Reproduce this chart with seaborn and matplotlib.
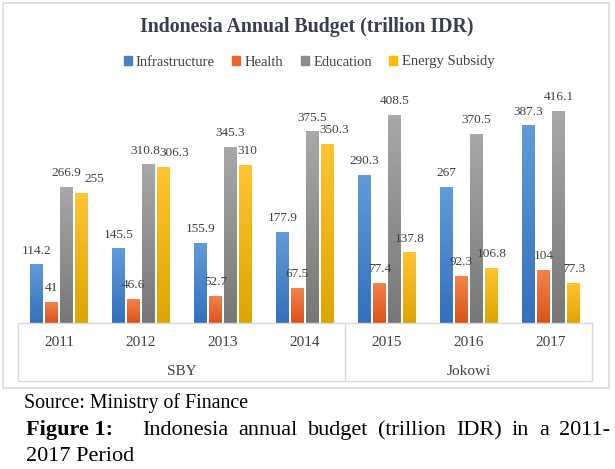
import numpy as np
import pandas as pd
import matplotlib.pyplot as plt
import seaborn as sns
from matplotlib.colors import LinearSegmentedColormap
from matplotlib.lines import Line2D
from matplotlib.patches import Rectangle

# =========================
# DATA
# =========================
years = ['2011', '2012', '2013', '2014', '2015', '2016', '2017']
periods = ['SBY', 'Jokowi']
period_spans = [(0, 3), (4, 6)]  # index of first / last year in each period
categories = ['Infrastructure', 'Health', 'Education', 'Energy Subsidy']

infrastructure = [114.2, 145.5, 155.9, 177.9, 290.3, 267, 387.3]
health = [41, 46.6, 52.7, 67.5, 77.4, 92.3, 104]
education = [266.9, 310.8, 345.3, 375.5, 408.5, 370.5, 416.1]
energy_subsidy = [255, 306.3, 310, 350.3, 137.8, 106.8, 77.3]

series = [infrastructure, health, education, energy_subsidy]
df = pd.DataFrame({
    'Year': np.tile(years, len(categories)),
    'Category': np.repeat(categories, len(years)),
    'Budget': np.concatenate(series),
})

# colour per series: legend colour, top and bottom of the gradient
legend_colors = ['#4a7fc8', '#ec6428', '#8c8c8c', '#ffbb00']
top_colors = ['#609bd8', '#f2834a', '#a8a8a8', '#ffc432']
bottom_colors = ['#3470bd', '#dd5318', '#777777', '#dca600']

# horizontal nudges (px) of labels that would collide, like Excel does
label_dx = [
    [0] * 7,
    [0] * 7,
    [0, -3, 0, 0, 0, 0, 0],
    [12, 10, 2, 6, 0, 0, 0],
]

# =========================
# FIGURE
# =========================
sns.set_theme(style='white')
plt.rcParams['font.family'] = ['Liberation Serif', 'DejaVu Serif']

W, H = 615, 469
fig = plt.figure(figsize=(W / 100, H / 100), dpi=100)


def fx(px):
    return px / W


def fy(py):
    return 1 - py / H


ax = fig.add_axes([fx(18), fy(323), fx(592) - fx(18), fy(94) - fy(323)])

sns.barplot(data=df, x='Year', y='Budget', hue='Category', hue_order=categories,
            palette=legend_colors, saturation=1, width=0.74, gap=0.15,
            legend=False, ax=ax)

# gradient fill for each bar
for cont, top, bot, vals, dxs in zip(ax.containers, top_colors, bottom_colors,
                                     series, label_dx):
    cmap = LinearSegmentedColormap.from_list('g', [bot, top])
    grad = np.linspace(0, 1, 64).reshape(-1, 1)
    for bar in cont:
        x0, w, h = bar.get_x(), bar.get_width(), bar.get_height()
        bar.set_facecolor('none')
        bar.set_edgecolor('none')
        ax.imshow(grad, extent=[x0, x0 + w, 0, h], origin='lower',
                  aspect='auto', cmap=cmap, zorder=2)
    anns = ax.bar_label(cont, labels=[f'{v:g}' for v in vals], padding=6,
                        fontsize=9.5, color='#404040')
    for ann, dx in zip(anns, dxs):
        ann.xyann = (dx * 0.72, 6)

ax.set_xlim(-0.5, len(years) - 0.5)
ax.set_ylim(0, 450)
ax.set_yticks([])
ax.set_xlabel('')
ax.set_ylabel('')
ax.tick_params(axis='x', length=0, pad=9, labelsize=11, labelcolor='#404040')
for s in ax.spines.values():
    s.set_visible(False)

# category axis frame with period groups
line_c = '#d9d9d9'
for x in [18, 345, 592]:
    fig.add_artist(Line2D([fx(x), fx(x)], [fy(323), fy(381)], color=line_c, lw=1))
for y in [323, 381]:
    fig.add_artist(Line2D([fx(18), fx(592)], [fy(y), fy(y)], color=line_c, lw=1))
for name, (i0, i1) in zip(periods, period_spans):
    ax.text((i0 + i1) / 2, -0.21, name, transform=ax.get_xaxis_transform(),
            ha='center', va='center', fontsize=11, color='#404040')

# chart border
fig.add_artist(Rectangle((fx(3), fy(388)), fx(609) - fx(3), fy(3) - fy(388),
                         fill=False, edgecolor=line_c, lw=1.2))

# title and legend
fig.text(fx(307), fy(27), 'Indonesia Annual Budget (trillion IDR)', ha='center',
         va='center', fontsize=14.3, fontweight='bold', color='#3a3f4b')
handles = [Rectangle((0, 0), 1, 1, color=c) for c in legend_colors]
fig.legend(handles, categories, loc='center', bbox_to_anchor=(fx(309), fy(62)),
           ncol=4, frameon=False, fontsize=10.5, handlelength=0.55, handleheight=0.55,
           handletextpad=0.3, columnspacing=1.2, labelcolor='#404040')

# source and caption
fig.text(fx(24), fy(408), 'Source: Ministry of Finance', fontsize=14.3,
         va='baseline', color='black')
fig.text(fx(26), fy(435), 'Figure 1:', fontsize=16, fontweight='bold',
         va='baseline', color='black')

# first caption line is justified between x=142 and x=610
words = 'Indonesia annual budget (trillion IDR) in a 2011-'.split()
word_texts = [fig.text(0, fy(435), w_, fontsize=16, va='baseline', color='black')
              for w_ in words]
renderer = fig.canvas.get_renderer()
widths = [t.get_window_extent(renderer).width for t in word_texts]
gap_px = (610 - 142 - sum(widths)) / (len(words) - 1)
x_px = 142
for t, w_ in zip(word_texts, widths):
    t.set_x(fx(x_px))
    x_px += w_ + gap_px

fig.text(fx(26), fy(461), '2017 Period', fontsize=16, va='baseline', color='black')

plt.savefig('out.png', dpi=100)
